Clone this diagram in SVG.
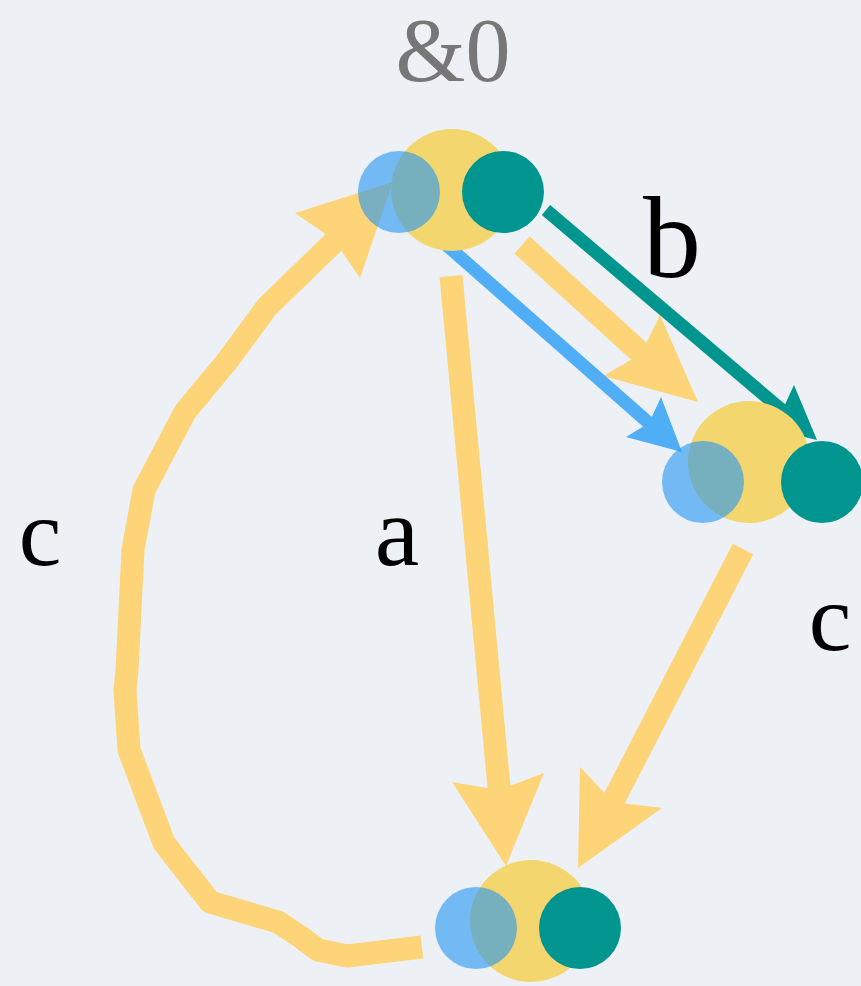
<svg xmlns="http://www.w3.org/2000/svg" width="861" height="986" viewBox="0 0 861 986">
<style>
.bg{fill:#EDF1F5}
.y{fill:#F4D66F}
.bl{fill:#2196F3;fill-opacity:0.6}
.t{fill:#00968F}
.ys{fill:none;stroke:#FED479;stroke-width:23;stroke-linejoin:round}
.yh{fill:#FED479}
.bs{fill:none;stroke:#4FAEF5;stroke-width:13}
.bh{fill:#4FAEF5}
.ts{fill:none;stroke:#00968F;stroke-width:13}
.th{fill:#00968F}
.lbl{font-family:"Liberation Serif","Times New Roman",serif;fill:#000;text-anchor:middle}
.title{font-family:"Liberation Serif","Times New Roman",serif;fill:#777;text-anchor:middle;font-size:90px}
</style>
<rect class="bg" x="0" y="0" width="861" height="986"/>
<text class="title" x="453" y="81">&amp;0</text>
<g id="connectors">
  <polyline class="ys" points="451,276 500,798"/>
  <polygon class="yh" points="506,866 544,773 499,790 452,782"/>
  <polyline class="ys" points="743,549 611,805"/>
  <polygon class="yh" points="578,868 580,767 613,802 662,808"/>
  <polyline class="ys" points="522,245 643,355"/>
  <polygon class="yh" points="698,402 660,315 641,354 603,376"/>
  <polyline class="ys" points="422,947 347,956 318,950 302,938 278,922 210,902 164,843 129,750 125,690 127,670 133,550 144,490 185,412 228,360 267,307 336,240"/>
  <polygon class="yh" points="393,182 295,213 334,240 360,278"/>
  <polyline class="bs" points="418,220 650,424"/>
  <polygon class="bh" points="682,452 661,397 649,423 626,437"/>
  <polyline class="ts" points="546,210 783,411"/>
  <polygon class="th" points="817,440 794,385 782,411 759,426"/>
</g>
<g id="node-top">
  <circle class="y" cx="452" cy="190" r="61"/>
  <circle class="bl" cx="399" cy="192" r="41"/>
  <circle class="t" cx="503" cy="192" r="41"/>
</g>
<g id="node-middle">
  <circle class="y" cx="749" cy="462" r="61"/>
  <circle class="bl" cx="703" cy="482" r="41"/>
  <circle class="t" cx="822" cy="482" r="41"/>
</g>
<g id="node-bottom">
  <circle class="y" cx="531" cy="921" r="61"/>
  <circle class="bl" cx="476" cy="928" r="41"/>
  <circle class="t" cx="580" cy="928" r="41"/>
</g>
<g id="labels">
  <text class="lbl" x="672" y="277" font-size="116">b</text>
  <text class="lbl" x="40" y="565" font-size="96">c</text>
  <text class="lbl" x="397" y="565" font-size="100">a</text>
  <text class="lbl" x="830" y="650" font-size="96">c</text>
</g>
</svg>
